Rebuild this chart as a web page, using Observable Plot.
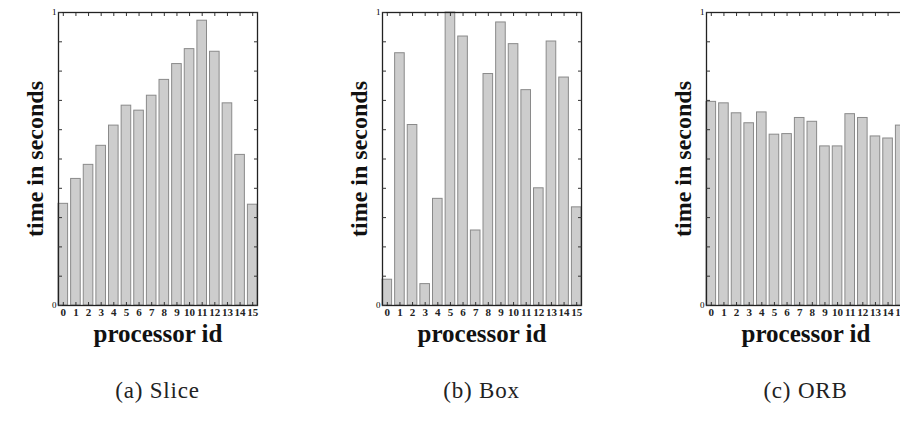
<!DOCTYPE html>
<html>
<head>
<meta charset="utf-8">
<script src="https://cdn.jsdelivr.net/npm/d3@7"></script>
<script src="https://cdn.jsdelivr.net/npm/@observablehq/plot@0.6"></script>
<style>
  html, body { margin: 0; padding: 0; background: #fff; }
  #wrap { position: relative; width: 900px; height: 426px; overflow: hidden; background: #fff; }
  .panel { position: absolute; top: 0; width: 330px; height: 426px; }
  .cap { position: absolute; top: 378px; font-family: "Liberation Serif", serif; font-size: 23px; letter-spacing: 0.8px; color: #222; text-align: center; width: 220px; }
</style>
</head>
<body>
<div id="wrap"></div>
<script>
// processor ids 0..15
const processors = d3.range(16).map(String);
const captions = ["(a) Slice", "(b) Box", "(c) ORB"];
// time in seconds (relative, 0..1) per processor
const sliceTimes = [0.347, 0.432, 0.480, 0.545, 0.614, 0.682, 0.665, 0.716, 0.770, 0.824, 0.875, 0.972, 0.866, 0.690, 0.514, 0.344];
const boxTimes   = [0.088, 0.861, 0.616, 0.073, 0.364, 1.000, 0.918, 0.256, 0.790, 0.966, 0.892, 0.735, 0.400, 0.901, 0.778, 0.335];
const orbTimes   = [0.695, 0.690, 0.656, 0.622, 0.659, 0.583, 0.585, 0.640, 0.627, 0.543, 0.543, 0.653, 0.640, 0.577, 0.570, 0.614];
const yTicks = d3.range(0, 11).map(i => i / 10);
const yLabelTicks = [0, 1];

const series = [sliceTimes, boxTimes, orbTimes];
const wrap = document.getElementById("wrap");
const serif = "Liberation Serif, Times New Roman, serif";

series.forEach((vals, k) => {
  const data = processors.map((p, i) => ({p, t: vals[i]}));
  const chart = Plot.plot({
    width: 270,
    height: 365,
    marginTop: 12,
    marginBottom: 60,
    marginLeft: 58,
    marginRight: 13,
    style: {fontFamily: serif, background: "transparent"},
    x: {domain: processors, paddingInner: 0.24, paddingOuter: 0, round: false, axis: null, label: null},
    y: {domain: [0, 1], axis: null, label: null},
    marks: [
      Plot.barY(data, {x: "p", y: "t", fill: "#cdcdcd", stroke: "#8a8a8a", strokeWidth: 1}),
      Plot.frame({stroke: "#222", strokeWidth: 1.3}),
      Plot.axisY({ticks: yTicks, tickSize: -4, tickFormat: () => "", label: null, stroke: "#333"}),
      Plot.axisY({anchor: "right", ticks: yTicks, tickSize: -4, tickFormat: () => "", label: null, stroke: "#333"}),
      Plot.axisY({ticks: yLabelTicks, tickSize: 0, tickPadding: 2, fontSize: 9, label: null, tickFormat: d => String(d)}),
      Plot.axisX({anchor: "top", tickSize: -3, tickFormat: () => "", label: null, stroke: "#333"}),
      Plot.axisX({anchor: "bottom", tickSize: -3, tickPadding: 6, fontSize: 11, fontWeight: 600, fill: "#222", label: null, stroke: "#333"}),
      Plot.text(["time in seconds"], {frameAnchor: "left", textAnchor: "middle", rotate: -90, dx: -23, fontSize: 24, fontWeight: "bold", fontFamily: serif, fill: "#111"}),
      Plot.text(["processor id"], {frameAnchor: "bottom", textAnchor: "middle", dy: 36, fontSize: 25, fontWeight: "bold", fontFamily: serif, fill: "#111"})
    ]
  });
  const panel = document.createElement("div");
  panel.className = "panel";
  panel.style.left = (k * 324) + "px";
  panel.appendChild(chart);
  const cap = document.createElement("div");
  cap.className = "cap";
  cap.style.left = (58 + 99.5 - 110) + "px";
  cap.textContent = captions[k];
  panel.appendChild(cap);
  wrap.appendChild(panel);
});
</script>
</body>
</html>
